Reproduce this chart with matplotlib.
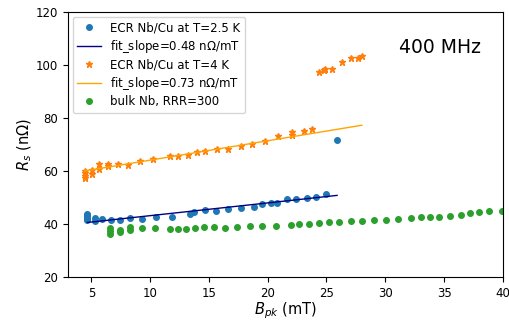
import numpy as np
import matplotlib
matplotlib.use("Agg")
import matplotlib.pyplot as plt

# ECR Nb/Cu at T=2.5 K
x25 = [4.6, 4.6, 4.6, 4.6, 4.6, 4.6, 5.3, 5.3, 5.9, 6.7, 7.4, 8.3, 9.35, 10.5, 11.9,
       13.4, 13.7, 14.65, 15.6, 16.6, 17.7, 18.8, 19.55, 20.25, 20.8, 21.6, 22.4,
       23.3, 24.1, 25.0, 25.9]
y25 = [44.0, 43.5, 43.0, 42.5, 42.0, 41.6, 41.1, 42.4, 42.0, 41.8, 41.7, 42.4, 42.1,
       42.6, 42.9, 43.8, 44.6, 45.5, 45.1, 45.6, 46.0, 46.6, 47.6, 48.0, 48.2, 49.4,
       49.6, 50.0, 50.1, 51.6, 71.9]
fit25_slope = 0.48
fit25_intercept = 38.46
fit25_range = [4.66, 25.9]

# ECR Nb/Cu at T=4 K
x4 = [4.46, 4.46, 4.46, 4.46, 5.03, 5.03, 5.68, 5.68, 6.4, 6.4, 7.23, 8.1, 9.1, 10.25,
      11.7, 12.4, 13.2, 13.96, 14.7, 15.65, 16.6, 17.7, 18.7, 19.8, 20.9, 22.06,
      22.1, 23.1, 23.8, 24.4, 24.8, 24.9, 25.5, 26.3, 27.1, 27.7, 28.0]
y4 = [60.2, 59.2, 58.2, 57.4, 60.3, 59.1, 62.6, 60.8, 62.6, 61.8, 62.6, 62.3, 63.7,
      64.7, 65.6, 65.8, 66.2, 67.1, 67.7, 68.4, 68.5, 69.4, 70.3, 71.4, 73.1, 74.9,
      73.8, 75.1, 75.8, 97.4, 98.2, 98.4, 98.4, 101.1, 102.5, 102.6, 103.3]
fit4_slope = 0.73
fit4_intercept = 56.86
fit4_range = [4.46, 28.0]

# bulk Nb, RRR=300
xb = [6.6, 6.6, 6.6, 7.4, 7.4, 8.3, 8.3, 9.3, 10.4, 11.7, 12.35, 13.05, 13.8, 14.6,
      15.45, 16.4, 17.4, 18.5, 19.55, 20.7, 21.95, 22.7, 23.5, 24.35, 25.2, 26.1,
      27.06, 28.05, 29.05, 30.06, 31.1, 32.2, 33.0, 33.8, 34.6, 35.5, 36.4, 37.2,
      38.0, 38.8, 39.95]
yb = [38.5, 37.4, 36.5, 37.8, 37.1, 39.0, 37.9, 38.7, 38.7, 38.3, 38.4, 38.4, 38.7,
      38.9, 38.9, 38.8, 39.1, 39.2, 39.4, 39.5, 39.8, 40.1, 40.2, 40.4, 40.7, 40.9,
      41.2, 41.3, 41.6, 41.8, 42.1, 42.3, 42.6, 42.7, 42.9, 43.2, 43.5, 44.1, 44.6,
      45.1, 45.1]

xticks = [5, 10, 15, 20, 25, 30, 35, 40]
yticks = [20, 40, 60, 80, 100, 120]

plt.rcParams['font.size'] = 8.5
fig = plt.figure(figsize=(5.1, 3.2), dpi=100)
ax = fig.add_axes([0.133, 0.133, 0.853, 0.830])

ax.plot(x25, y25, 'o', color='#1f77b4', ms=4, label='ECR Nb/Cu at T=2.5 K')
fx = np.array(fit25_range)
ax.plot(fx, fit25_intercept + fit25_slope * fx, '-', color='navy', lw=1,
        label='fit_slope=0.48 n$\\Omega$/mT')
ax.plot(x4, y4, '*', color='#ff7f0e', ms=4.5, label='ECR Nb/Cu at T=4 K')
fx4 = np.array(fit4_range)
ax.plot(fx4, fit4_intercept + fit4_slope * fx4, '-', color='orange', lw=1,
        label='fit_slope=0.73 n$\\Omega$/mT')
ax.plot(xb, yb, 'o', color='#2ca02c', ms=4, label='bulk Nb, RRR=300')

ax.set_xlim(3, 40)
ax.set_ylim(20, 120)
ax.set_xticks(xticks)
ax.set_yticks(yticks)
ax.set_xlabel('$B_{pk}$ (mT)', fontsize=10.5, labelpad=0.5)
ax.set_ylabel('$R_s$ (n$\\Omega$)', fontsize=10.5, labelpad=1.5)

ax.text(31.2, 106.6, '400 MHz', fontsize=13.5, ha='left', va='center')

ax.legend(loc='upper left', fontsize=8.5, borderaxespad=0.4, handlelength=2.0,
          labelspacing=0.3)

fig.savefig('out.png', dpi=100)
